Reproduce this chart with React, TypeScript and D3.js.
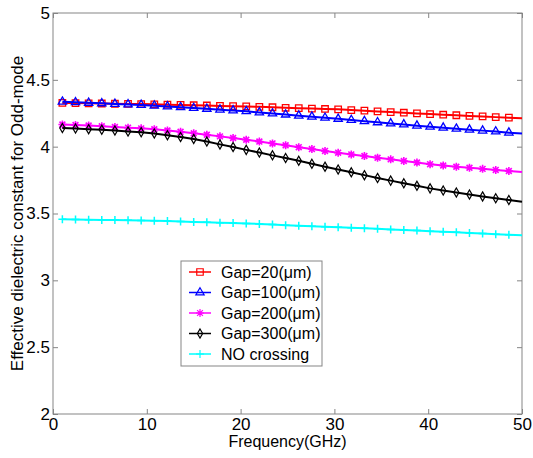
import React, { useEffect, useRef } from 'react';
import * as d3 from 'd3';

// frequency points (GHz), markers every 1.4 GHz, line runs on to 50
const freq = [1, 2.4, 3.8, 5.2, 6.6, 8.0, 9.4, 10.8, 12.2, 13.6, 15.0, 16.4, 17.8, 19.2, 20.6, 22.0, 23.4, 24.8,
  26.2, 27.6, 29.0, 30.4, 31.8, 33.2, 34.6, 36.0, 37.4, 38.8, 40.2, 41.6, 43.0, 44.4, 45.8, 47.2, 48.6, 50];

const gap20 = [4.327, 4.326, 4.324, 4.323, 4.321, 4.320, 4.319, 4.317, 4.314, 4.312, 4.310, 4.308, 4.305, 4.303,
  4.301, 4.298, 4.295, 4.291, 4.288, 4.285, 4.282, 4.279, 4.274, 4.269, 4.264, 4.259, 4.254, 4.249, 4.244, 4.239,
  4.235, 4.230, 4.226, 4.221, 4.217, 4.212];
const gap100 = [4.336, 4.332, 4.328, 4.324, 4.320, 4.316, 4.312, 4.307, 4.301, 4.295, 4.289, 4.283, 4.277, 4.271,
  4.265, 4.256, 4.248, 4.240, 4.232, 4.224, 4.216, 4.208, 4.199, 4.191, 4.182, 4.174, 4.166, 4.157, 4.149, 4.142,
  4.134, 4.127, 4.120, 4.113, 4.105, 4.098];
const gap200 = [4.166, 4.162, 4.158, 4.153, 4.147, 4.142, 4.137, 4.130, 4.121, 4.111, 4.100, 4.089, 4.077, 4.065,
  4.052, 4.038, 4.024, 4.010, 3.996, 3.982, 3.968, 3.955, 3.942, 3.930, 3.917, 3.905, 3.893, 3.881, 3.869, 3.859,
  3.850, 3.842, 3.834, 3.826, 3.818, 3.810];
const gap300 = [4.139, 4.136, 4.131, 4.127, 4.121, 4.114, 4.108, 4.098, 4.085, 4.072, 4.058, 4.038, 4.017, 3.997,
  3.976, 3.956, 3.935, 3.915, 3.894, 3.872, 3.850, 3.829, 3.808, 3.787, 3.766, 3.746, 3.726, 3.707, 3.688, 3.672,
  3.657, 3.642, 3.628, 3.614, 3.601, 3.588];
const noCrossing = [3.457, 3.456, 3.454, 3.452, 3.451, 3.449, 3.448, 3.446, 3.443, 3.440, 3.437, 3.434, 3.431, 3.429,
  3.426, 3.422, 3.417, 3.412, 3.408, 3.404, 3.400, 3.397, 3.393, 3.389, 3.385, 3.380, 3.376, 3.372, 3.367, 3.363,
  3.359, 3.354, 3.350, 3.345, 3.341, 3.337];

const labels = ['Gap=20(\u03bcm)', 'Gap=100(\u03bcm)', 'Gap=200(\u03bcm)', 'Gap=300(\u03bcm)', 'NO crossing'];
const xTicks = [0, 10, 20, 30, 40, 50];
const yTicks = [2, 2.5, 3, 3.5, 4, 4.5, 5];

const FONT = 'Arial, "Liberation Sans", sans-serif';

// marker paths, centred on 0,0
const markerPath: { [k: string]: string } = {
  square: d3.symbol().type(d3.symbolSquare).size(42)() as string,
  triangle: d3.symbol().type(d3.symbolTriangle).size(30)() as string,
  star: 'M-4,0H4M0,-4V4M-2.9,-2.9L2.9,2.9M-2.9,2.9L2.9,-2.9',
  diamond: d3.symbol().type(d3.symbolDiamond).size(24)() as string,
  plus: 'M-4,0H4M0,-4V4',
};

export default function App() {
  const ref = useRef<SVGSVGElement>(null);

  useEffect(() => {
    const svg = d3.select(ref.current);
    svg.selectAll('*').remove();

    const left = 53, right = 522, top = 13, bottom = 414;
    const x = d3.scaleLinear().domain([0, 50]).range([left, right]);
    const y = d3.scaleLinear().domain([2, 5]).range([bottom, top]);

    const series = [
      { name: labels[0], values: gap20, color: '#ff0000', marker: 'square', mw: 1.3 },
      { name: labels[1], values: gap100, color: '#0000ff', marker: 'triangle', mw: 1.3 },
      { name: labels[2], values: gap200, color: '#ff00ff', marker: 'star', mw: 1.6 },
      { name: labels[3], values: gap300, color: '#000000', marker: 'diamond', mw: 1.2 },
      { name: labels[4], values: noCrossing, color: '#00ffff', marker: 'plus', mw: 1.5 },
    ];

    // axes (ticks pointing in, like matlab)
    const axisColor = '#858585';
    const styleAxis = (g: any) => {
      g.select('.domain').remove();
      g.selectAll('line').attr('stroke', axisColor);
      g.selectAll('text').attr('fill', '#000').attr('font-family', FONT).attr('font-size', 17);
    };

    svg.append('g').attr('transform', `translate(0,${bottom})`)
      .call(d3.axisBottom(x).tickValues(xTicks).tickSizeInner(-5).tickSizeOuter(0).tickPadding(4).tickFormat(d3.format('d')))
      .call(styleAxis);
    svg.append('g').attr('transform', `translate(0,${top})`)
      .call(d3.axisTop(x).tickValues(xTicks).tickSizeInner(-5).tickSizeOuter(0).tickFormat(() => ''))
      .call(styleAxis);
    svg.append('g').attr('transform', `translate(${left},0)`)
      .call(d3.axisLeft(y).tickValues(yTicks).tickSizeInner(-5).tickSizeOuter(0).tickPadding(3).tickFormat(d3.format('')))
      .call(styleAxis);
    svg.append('g').attr('transform', `translate(${right},0)`)
      .call(d3.axisRight(y).tickValues(yTicks).tickSizeInner(-5).tickSizeOuter(0).tickFormat(() => ''))
      .call(styleAxis);

    svg.append('rect')
      .attr('x', left).attr('y', top)
      .attr('width', right - left).attr('height', bottom - top)
      .attr('fill', 'none').attr('stroke', axisColor).attr('stroke-width', 1);

    // lines + markers
    series.forEach(s => {
      const line = d3.line<number>()
        .x((d, i) => x(freq[i]))
        .y(d => y(d));
      svg.append('path')
        .datum(s.values)
        .attr('d', line)
        .attr('fill', 'none')
        .attr('stroke', s.color)
        .attr('stroke-width', 2);

      svg.append('g').selectAll('path')
        .data(s.values.slice(0, s.values.length - 1))
        .enter()
        .append('path')
        .attr('transform', (d, i) => `translate(${x(freq[i])},${y(d)})`)
        .attr('d', markerPath[s.marker])
        .attr('fill', 'none')
        .attr('stroke', s.color)
        .attr('stroke-width', s.mw);
    });

    // legend
    const lg = svg.append('g').attr('transform', 'translate(181,261)');
    lg.append('rect').attr('width', 141).attr('height', 105)
      .attr('fill', '#fff').attr('stroke', axisColor);
    series.forEach((s, i) => {
      const ry = 11 + i * 20.5;
      lg.append('line').attr('x1', 8).attr('x2', 30).attr('y1', ry).attr('y2', ry)
        .attr('stroke', s.color).attr('stroke-width', 1.5);
      lg.append('path').attr('transform', `translate(19,${ry})`)
        .attr('d', markerPath[s.marker]).attr('fill', 'none')
        .attr('stroke', s.color).attr('stroke-width', 1.2);
      lg.append('text').attr('x', 40).attr('y', ry + 5.5)
        .attr('font-family', FONT).attr('font-size', 16)
        .text(s.name);
    });

    // axis titles
    svg.append('text')
      .attr('x', (left + right) / 2).attr('y', 447)
      .attr('text-anchor', 'middle')
      .attr('font-family', FONT).attr('font-size', 16)
      .text('Frequency(GHz)');
    svg.append('text')
      .attr('transform', `translate(23,${(top + bottom) / 2}) rotate(-90)`)
      .attr('text-anchor', 'middle')
      .attr('font-family', FONT).attr('font-size', 17)
      .text('Effective dielectric constant for Odd-mode');
  }, []);

  return (
    <svg ref={ref} width={533} height={458}
      style={{ position: 'absolute', left: 0, top: 0, background: '#fff' }} />
  );
}
